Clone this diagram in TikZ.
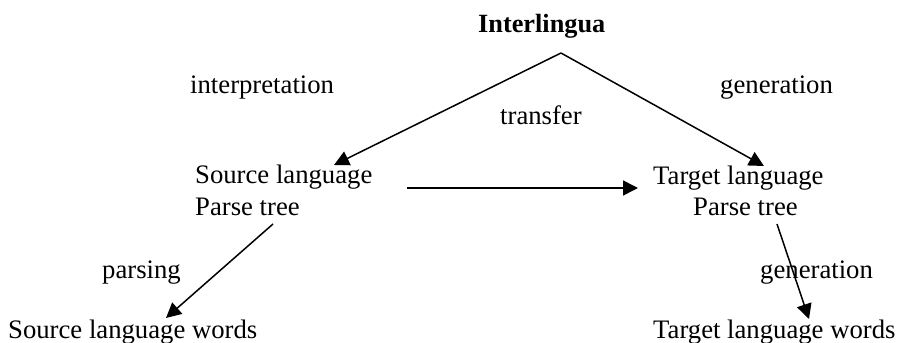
\documentclass[tikz,border=0pt]{standalone}
\usepackage{fontspec}
\setmainfont{Liberation Serif}
\usetikzlibrary{arrows.meta}
\begin{document}
\begin{tikzpicture}[x=1pt,y=-1pt,
  lbl/.style={anchor=base west,inner sep=0pt,font=\fontsize{26.7}{32}\selectfont},
  conn/.style={line width=1.5pt,-{Triangle[length=15pt,width=15pt]}}]
\useasboundingbox (0,0) rectangle (898,343);
% texts
\node[lbl,font=\fontsize{26.3}{32}\selectfont\bfseries] (inter) at (478,32) {Interlingua};
\node[lbl] (interp) at (190,93) {interpretation};
\node[lbl] (gentop) at (720,93) {generation};
\node[lbl] (transfer) at (500,124) {transfer};
\node[lbl] (srcA) at (195,183) {Source language};
\node[lbl] (srcB) at (195,215) {Parse tree};
\node[lbl] (tgtA) at (653,184) {Target language};
\node[lbl] (tgtB) at (693,215) {Parse tree};
\node[lbl] (parsing) at (102,278) {parsing};
\node[lbl] (genbot) at (760,278) {generation};
\node[lbl] (srcW) at (8,338) {Source language words};
\node[lbl] (tgtW) at (653,338) {Target language words};
% connector ends
\coordinate (apex) at (561,53);
\coordinate (lt) at (334,165);
\coordinate (rt) at (764,166);
\coordinate (hs) at (407,188);
\coordinate (he) at (638,188);
\coordinate (ps) at (273,224);
\coordinate (pe) at (166,318);
\coordinate (gs) at (777,224);
\coordinate (ge) at (809,319);
% connectors
\draw[conn] (apex) -- (lt);
\draw[conn] (apex) -- (rt);
\draw[conn] (hs) -- (he);
\draw[conn] (ps) -- (pe);
\draw[conn] (gs) -- (ge);
\end{tikzpicture}
\end{document}
